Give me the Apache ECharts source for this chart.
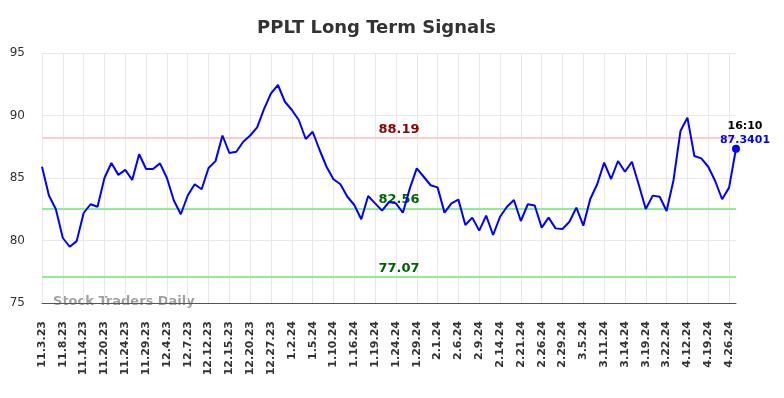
<!DOCTYPE html>
<html>
<head>
<meta charset="utf-8">
<script src="https://cdn.jsdelivr.net/npm/echarts@6/dist/echarts.min.js"></script>
<style>
  html, body { margin: 0; padding: 0; background: #fff; }
  #chart { width: 784px; height: 398px; }
</style>
</head>
<body>
<div id="chart"></div>
<script>
// dates (every third one is labelled on the axis)
const dates = [
  '11.3.23', '11.6.23', '11.7.23', '11.8.23', '11.9.23', '11.13.23', '11.14.23', '11.15.23', '11.17.23',
  '11.20.23', '11.21.23', '11.22.23', '11.24.23', '11.27.23', '11.28.23', '11.29.23', '11.30.23', '12.1.23',
  '12.4.23', '12.5.23', '12.6.23', '12.7.23', '12.8.23', '12.11.23', '12.12.23', '12.13.23', '12.14.23',
  '12.15.23', '12.18.23', '12.19.23', '12.20.23', '12.21.23', '12.22.23', '12.27.23', '12.28.23', '12.29.23',
  '1.2.24', '1.3.24', '1.4.24', '1.5.24', '1.8.24', '1.9.24', '1.10.24', '1.11.24', '1.12.24',
  '1.16.24', '1.17.24', '1.18.24', '1.19.24', '1.22.24', '1.23.24', '1.24.24', '1.25.24', '1.26.24',
  '1.29.24', '1.30.24', '1.31.24', '2.1.24', '2.2.24', '2.5.24', '2.6.24', '2.7.24', '2.8.24',
  '2.9.24', '2.12.24', '2.13.24', '2.14.24', '2.15.24', '2.20.24', '2.21.24', '2.22.24', '2.23.24',
  '2.26.24', '2.27.24', '2.28.24', '2.29.24', '3.1.24', '3.4.24', '3.5.24', '3.6.24', '3.8.24',
  '3.11.24', '3.12.24', '3.13.24', '3.14.24', '3.15.24', '3.18.24', '3.19.24', '3.20.24', '3.21.24',
  '3.22.24', '4.10.24', '4.11.24', '4.12.24', '4.15.24', '4.16.24', '4.19.24', '4.23.24', '4.24.24',
  '4.26.24', '4.29.24'
]

const prices = [
  85.9, 83.6, 82.5, 80.2, 79.5, 79.95, 82.2, 82.9, 82.7,
  85.0, 86.2, 85.25, 85.65, 84.85, 86.9, 85.72, 85.72, 86.17,
  85.0, 83.2, 82.1, 83.6, 84.5, 84.1, 85.8, 86.35, 88.4,
  87.0, 87.1, 87.9, 88.4, 89.05, 90.53, 91.77, 92.44, 91.1,
  90.44, 89.64, 88.12, 88.7, 87.24, 85.9, 84.9, 84.5, 83.5,
  82.84, 81.7, 83.56, 82.97, 82.39, 83.08, 82.97, 82.22, 84.17,
  85.77, 85.1, 84.42, 84.25, 82.23, 82.97, 83.27, 81.24, 81.83,
  80.79, 81.99, 80.44, 81.9, 82.7, 83.24, 81.56, 82.9, 82.8,
  81.03, 81.83, 80.97, 80.92, 81.5, 82.63, 81.19, 83.32, 84.5,
  86.23, 84.92, 86.36, 85.5, 86.3, 84.44, 82.52, 83.59, 83.5,
  82.36, 84.84, 88.76, 89.83, 86.76, 86.57, 85.9, 84.76, 83.3,
  84.23, 87.3401
]

const resistance = 88.19
const supports = [82.56, 77.07]
const yTicks = [75, 80, 85, 90, 95]
const lastTime = '16:10'

const chart = echarts.init(document.getElementById('chart'))
const lastIdx = prices.length - 1

chart.setOption({
  animation: false,
  title: {
    text: 'PPLT Long Term Signals',
    left: 252,
    top: 14,
    textStyle: { fontFamily: 'DejaVu Sans', fontSize: 18, fontWeight: 'bold', color: '#333' }
  },
  graphic: [{
    type: 'text',
    left: 53,
    top: 295,
    z: 0,
    style: {
      text: 'Stock Traders Daily',
      fontFamily: 'DejaVu Sans',
      fontSize: 13,
      fontWeight: 'bold',
      fill: 'rgba(120,120,120,0.7)'
    }
  }],
  grid: { left: 42, right: 48, top: 53, bottom: 95 },
  xAxis: {
    type: 'category',
    data: dates,
    boundaryGap: false,
    axisLine: { lineStyle: { color: '#555', width: 1 } },
    axisTick: { show: false },
    axisLabel: {
      interval: 2,
      rotate: 90,
      margin: 18,
      fontFamily: 'DejaVu Sans',
      fontSize: 11,
      fontWeight: 'bold',
      color: '#333'
    },
    splitLine: { show: true, interval: 2, lineStyle: { color: '#e8e8e8' } }
  },
  yAxis: {
    type: 'value',
    min: yTicks[0],
    max: yTicks[yTicks.length - 1],
    interval: 5,
    axisLine: { show: false },
    axisTick: { show: false },
    axisLabel: { margin: 17, fontFamily: 'DejaVu Sans', fontSize: 12, color: '#333' },
    splitLine: { lineStyle: { color: '#e8e8e8' } }
  },
  series: [{
    type: 'line',
    data: prices,
    showSymbol: false,
    lineStyle: { color: '#0000ff', width: 2 },
    itemStyle: { color: '#0000ff' },
    z: 5,
    markLine: {
      silent: true,
      symbol: 'none',
      z: 3,
      label: {
        position: 'insideMiddleTop',
        fontFamily: 'DejaVu Sans',
        fontSize: 13,
        fontWeight: 'bold',
        padding: [0, 0, 0, 20],
        distance: 2
      },
      data: [
        { yAxis: resistance, lineStyle: { color: '#ffcccc', width: 2, type: 'solid' },
          label: { formatter: resistance.toFixed(2), color: '#8b0000' } },
        ...supports.map(v => ({
          yAxis: v,
          lineStyle: { color: '#90ee90', width: 2, type: 'solid' },
          label: { formatter: v.toFixed(2), color: '#006400' }
        }))
      ]
    },
    markPoint: {
      symbol: 'circle',
      symbolSize: 8,
      itemStyle: { color: '#0000ff' },
      label: {
        show: true,
        position: 'top',
        offset: [9, 7],
        formatter: '{t|' + lastTime + '}\n{v|' + prices[lastIdx] + '}',
        rich: {
          t: { fontFamily: 'DejaVu Sans', fontSize: 11, fontWeight: 'bold', color: '#000', lineHeight: 14 },
          v: { fontFamily: 'DejaVu Sans', fontSize: 11, fontWeight: 'bold', color: '#0000ff', lineHeight: 14 }
        }
      },
      data: [{ coord: [lastIdx, prices[lastIdx]] }]
    }
  }]
})
</script>
</body>
</html>
